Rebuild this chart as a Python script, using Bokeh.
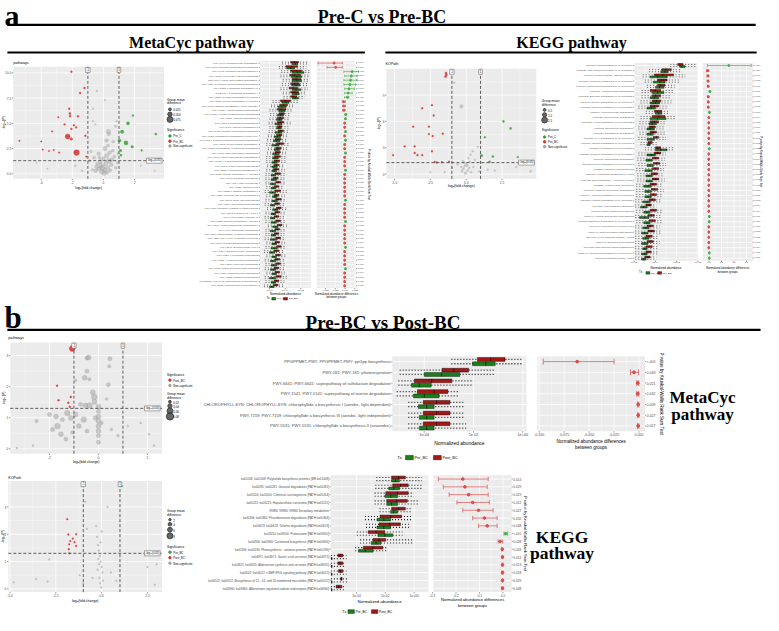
import math
from bokeh.plotting import figure
from bokeh.models import Range1d, Label, LabelSet, ColumnDataSource, BoxAnnotation
from bokeh.core.properties import value
from bokeh.embed import file_html
from bokeh.resources import INLINE

# ------------------------------------------------------------------ data
# Panel a, MetaCyc volcano (log2 FC, -log10 P, group mean difference)
vA1_red_x = [-2.06, -1.22, -1.50, -2.20, -2.16, -2.15, -1.64, -2.90, -2.50, -1.90, -1.75, -2.06, -3.30, -2.30, -2.06, -1.16, -4.00, -5.40, -3.90, -3.50, -3.20, -2.85, -1.73, -1.10]
vA1_red_y = [10.1, 8.5, 8.0, 6.45, 5.97, 5.7, 5.7, 5.6, 4.9, 4.8, 4.6, 4.45, 4.2, 3.7, 3.45, 3.77, 3.2, 3.26, 2.4, 2.26, 2.35, 2.1, 2.1, 1.7]
vA1_red_s = [0.01, 0.01, 0.01, 0.01, 0.015, 0.01, 0.01, 0.005, 0.01, 0.01, 0.01, 0.01, 0.005, 0.06, 0.02, 0.01, 0.005, 0.005, 0.005, 0.005, 0.005, 0.005, 0.07, 0.005]
vA1_green_x = [1.58, 1.20, 1.90, 3.37, 1.45, 1.85, 2.46, 1.03, 1.10, 1.12]
vA1_green_y = [5.0, 4.16, 5.77, 3.94, 3.06, 2.68, 2.32, 3.3, 2.3, 1.84]
vA1_green_s = [0.03, 0.035, 0.01, 0.015, 0.045, 0.02, 0.01, 0.03, 0.02, 0.015]
vA1_grey_x = [-0.42, 0.10, -0.67, 0.84, 0.78, 0.32, 0.35, 0.63, -0.67, -0.52, -1.80, -4.30, -3.60, 2.40, 3.30, -1.37, -0.50, -0.30, -0.10, 0.10, 0.30, 0.50, -0.40, -0.20, 0.00, 0.20, 0.40, 0.60, -0.60, -0.30, 0.10, 0.35, 0.70, -0.15, 0.05, -0.05, 0.25, 0.45, -0.45, 0.15, 0.55, -0.25, 0.80, -0.70, 0.90, 0.30, 0.20, -0.80, -0.90, 0.95]
vA1_grey_y = [8.2, 7.3, 6.45, 5.2, 4.7, 4.2, 3.95, 3.2, 5.2, 4.9, 0.8, 1.1, 0.5, 0.8, 0.3, 0.3, 0.3, 0.5, 0.2, 0.4, 0.6, 0.9, 1.0, 1.2, 1.5, 1.8, 2.1, 2.3, 1.6, 2.0, 2.5, 1.3, 1.7, 0.8, 0.05, 0.6, 0.15, 0.35, 0.7, 1.0, 1.4, 1.6, 0.6, 0.4, 1.1, 2.8, 3.3, 2.2, 1.3, 2.0]
vA1_grey_s = [0.01, 0.01, 0.01, 0.01, 0.02, 0.05, 0.04, 0.03, 0.01, 0.01, 0.01, 0.005, 0.005, 0.005, 0.005, 0.01, 0.04, 0.05, 0.06, 0.05, 0.04, 0.04, 0.03, 0.05, 0.04, 0.05, 0.04, 0.03, 0.03, 0.04, 0.05, 0.06, 0.03, 0.06, 0.05, 0.07, 0.04, 0.03, 0.04, 0.05, 0.04, 0.03, 0.03, 0.02, 0.02, 0.03, 0.04, 0.02, 0.02, 0.02]

# Panel a, KEGG volcano
vA2_red_x = [-1.41, -1.38, -1.45, -3.07, -2.39, -2.27, -3.70, -2.60, -2.60, -2.34, -1.64, -4.30, -3.60, -3.60, -3.40, -3.07, -2.39, -5.10, -2.20, -2.05, -1.70, -1.20]
vA2_red_y = [11.5, 11.3, 11.1, 7.5, 7.85, 6.67, 5.4, 5.4, 4.55, 4.33, 4.6, 3.15, 3.15, 2.4, 2.15, 2.15, 2.6, 2.15, 1.37, 1.32, 1.35, 1.40]
vA2_red_s = [0.3, 0.3, 0.3, 0.2, 0.2, 0.2, 0.2, 0.2, 0.2, 0.2, 0.2, 0.2, 0.2, 0.2, 0.2, 0.2, 0.2, 0.2, 0.2, 0.2, 0.2, 0.2]
vA2_green_x = [2.6, 3.1, 1.3, 1.07, 1.86, 1.63, 3.6]
vA2_green_y = [6.0, 5.2, 4.2, 2.1, 2.0, 1.4, 1.93]
vA2_green_s = [0.3, 0.3, 0.2, 0.4, 0.3, 0.3, 0.2]
vA2_grey_x = [-0.34, -0.84, 0.8, 4.5, -2.5, -1.5, 1.5, 0.5, -0.3, -0.2, -0.1, 0.0, 0.1, 0.2, -0.25, 0.15, 0.3, -0.05, 0.05, -0.15, 0.25, -0.35, 0.35, 0.6, -0.6, 0.9, 2.0, 3.5, -1.0, 0.45]
vA2_grey_y = [7.7, 10.4, 3.1, 0.3, 0.2, 0.2, 0.5, 0.8, 0.3, 0.6, 0.9, 1.2, 0.4, 0.7, 1.5, 1.8, 2.2, 0.1, 1.0, 1.3, 1.4, 0.8, 0.2, 1.6, 1.1, 0.3, 0.4, 0.8, 0.7, 2.6]
vA2_grey_s = [0.8, 0.2, 0.2, 0.3, 0.2, 0.2, 0.2, 0.2, 0.3, 0.4, 0.3, 0.3, 0.4, 0.3, 0.2, 0.2, 0.2, 0.5, 0.4, 0.3, 0.3, 0.2, 0.3, 0.2, 0.2, 0.2, 0.2, 0.2, 0.2, 0.2]

# Panel b, MetaCyc volcano
vB1_red_x = [-1.07, -1.69, -1.63, -1.13, -1.23, -1.17]
vB1_red_y = [3.23, 2.03, 1.56, 1.67, 1.48, 1.35]
vB1_red_s = [0.06, 0.01, 0.01, 0.01, 0.01, 0.01]
vB1_grey_x = [-0.40, -0.47, 0.47, 0.44, -0.47, -0.56, -0.37, -0.93, 0.40, -0.23, -0.17, -0.16, -0.36, -0.53, -0.73, 0.00, 0.33, 0.00, 0.00, 0.00, 0.00, 0.00, 0.00, 0.00, -0.13, 0.13, -2.00, -1.73, -1.47, -1.27, -1.13, -0.93, -0.60, -0.80, -1.67, -1.87, -1.53, -1.33, -1.07, -0.47, -2.53, 0.53, 0.80, 1.20, 1.73, 2.27, -2.67, -3.33, 2.07]
vB1_grey_y = [2.94, 2.92, 2.90, 2.66, 2.50, 2.29, 2.24, 2.20, 2.06, 1.82, 1.67, 1.51, 1.40, 1.40, 1.43, 1.35, 1.60, 1.20, 1.04, 0.89, 0.73, 0.57, 0.42, 0.21, 0.99, 0.83, 1.10, 1.04, 0.94, 1.15, 0.99, 1.10, 0.94, 0.73, 0.73, 0.62, 0.47, 0.31, 0.52, 0.57, 0.89, 0.62, 0.42, 0.73, 0.83, 0.10, 0.10, 0.02, 0.47]
vB1_grey_s = [0.05, 0.04, 0.04, 0.03, 0.04, 0.05, 0.03, 0.02, 0.04, 0.05, 0.06, 0.05, 0.06, 0.05, 0.04, 0.05, 0.02, 0.04, 0.05, 0.05, 0.05, 0.05, 0.04, 0.04, 0.04, 0.03, 0.04, 0.05, 0.04, 0.06, 0.05, 0.05, 0.06, 0.05, 0.06, 0.04, 0.05, 0.04, 0.03, 0.04, 0.03, 0.02, 0.02, 0.01, 0.01, 0.01, 0.01, 0.01, 0.01]

# Panel b, KEGG volcano
vB2_red_x = [-1.875, -1.82, -1.57, -1.39, -1.71, -1.48, -1.77, -1.39, -1.79, -1.75]
vB2_red_y = [2.55, 1.99, 1.84, 2.00, 1.75, 1.71, 1.63, 1.57, 1.45, 1.30]
vB2_red_s = [1, 1, 1, 1, 1, 1, 1, 1, 1, 1]
vB2_green_x = [1.10]
vB2_green_y = [3.76]
vB2_green_s = [1]
vB2_grey_x = [-0.89, 0.32, -2.86, -4.80, -2.95, -3.57, 2.50, 3.00, 2.90, -1.00, -1.20, 0.50, 0.80, -0.50, -0.80, -0.30, 0.00, -0.25, -0.20, -0.15, -0.10, -0.05, 0.00, 0.05, -0.12, -0.08, -0.02, -0.18, 0.08, -0.22, -0.06, -0.14]
vB2_grey_y = [3.19, 3.00, 1.08, 0.24, 0.27, 0.36, 0.80, 0.90, 0.15, 0.20, 0.50, 0.60, 0.30, 0.40, 2.20, 2.30, 2.10, 1.90, 1.60, 1.40, 1.20, 1.00, 0.80, 0.60, 0.40, 0.20, 0.05, 1.10, 0.30, 0.70, 1.70, 0.90]
vB2_grey_s = [1] * 32

# Panel a, MetaCyc abundance (log10 normalized abundance)
mA_names = ["PWY-7446: sulfoquinovose degradation I", "PWY-5677: succinate fermentation to butanoate", "PWY-6471: peptidoglycan biosynthesis IV", "PWY-7013: (S)-propane-1,2-diol degradation", "P164-PWY: purine nucleobases degradation I", "PWY-7209: pyrimidine ribonucleosides degradation", "PWY-5088: L-glutamate degradation VIII", "P162-PWY: L-glutamate degradation V", "PWY-6588: pyruvate fermentation to acetone", "PWY-5181: toluene degradation III (aerobic)", "PWY-5415: catechol degradation I (meta-cleavage)", "PWY-6185: 4-methylcatechol degradation", "PWY-7002: 4-hydroxyacetophenone degradation", "PWY-5420: catechol degradation II", "PWY-6210: 2-aminophenol degradation", "PWY-5417: catechol degradation III", "PWY-5431: aromatic compounds degradation", "PWY-6956: naphthalene degradation to acetyl-CoA", "PWY-5654: 2-amino-3-carboxymuconate degradation", "PWY-3661: glycine betaine degradation I", "PWY-6182: superpathway of salicylate degradation", "PWY-6071: phenylethylamine degradation", "PWY-7097: vanillin and vanillate degradation I", "PWY-6992: 1,5-anhydrofructose degradation", "PWY-7007: methyl ketone biosynthesis", "PWY-5655: L-tryptophan degradation IX", "PWY-5178: toluene degradation IV (aerobic)", "PWY-6690: cinnamate degradation", "PWY-7094: fatty acid salvage", "PWY-6531: mannitol cycle", "PWY-5028: L-histidine degradation II", "PWY-7159: chlorophyllide a biosynthesis III", "PWY-5198: factor 420 biosynthesis", "PWY-6876: isopropanol biosynthesis", "PWY-7616: methanol oxidation to carbon dioxide", "PWY-5392: reductive TCA cycle II", "PWY-6748: nitrate reduction VII", "PWY-5182: toluene degradation II (aerobic)", "PWY-7399: methylphosphonate degradation II", "PWY-6641: sulfolactate degradation", "PWY-1541: superpathway of taurine degradation", "PWY-7254: TCA cycle VII (acetate-producers)", "PWY-5109: 2-methylbutanoate biosynthesis", "PWY-5747: 2-methylcitrate cycle II", "PWY-7384: anaerobic energy metabolism", "PWY-6629: L-tryptophan biosynthesis", "PWY-6215: 4-chlorobenzoate degradation", "PWY-5534: propylene degradation", "PWY-7031: protein N-glycosylation (bacterial)", "PWY-6107: chlorosalicylate degradation", "PWY-7392: taxadiene biosynthesis", "CHLOROPHYLL-SYN: chlorophyllide a biosynthesis I", "PWY-5531: chlorophyllide a biosynthesis II"]
mA_r_q1 = [-3.3, -3.9, -3.3, -3.4, -3.1, -3.3, -3.5, -3.3, -3.3, -4.6, -4.7, -5.0, -4.8, -5.0, -5.0, -5.0, -4.9, -5.1, -5.3, -5.1, -5.2, -5.3, -5.4, -5.4, -5.4, -5.5, -5.3, -5.5, -5.2, -5.4, -5.3, -5.4, -5.2, -5.3, -5.1, -5.3, -5.4, -5.2, -5.0, -5.3, -5.4, -5.2, -5.3, -5.1, -5.4, -5.2, -5.3, -5.2, -5.4, -5.3, -5.2, -5.4, -5.5]
mA_r_med = [-2.8, -3.2, -2.6, -2.8, -2.6, -2.8, -3.0, -2.8, -2.9, -4.0, -4.2, -4.5, -4.4, -4.6, -4.6, -4.7, -4.6, -4.7, -4.9, -4.7, -4.9, -4.9, -5.0, -5.1, -5.1, -5.2, -5.0, -5.2, -4.9, -5.1, -5.0, -5.1, -4.9, -5.0, -4.8, -5.0, -5.1, -4.9, -4.7, -5.0, -5.1, -4.9, -5.0, -4.8, -5.1, -4.9, -5.0, -4.9, -5.1, -5.0, -4.9, -5.1, -5.2]
mA_r_q3 = [-2.3, -2.4, -1.9, -2.0, -2.0, -2.2, -2.4, -2.3, -2.5, -3.3, -3.7, -3.9, -4.1, -4.2, -4.2, -4.4, -4.2, -4.4, -4.5, -4.2, -4.5, -4.6, -4.6, -4.7, -4.8, -4.8, -4.6, -4.9, -4.6, -4.8, -4.6, -4.8, -4.5, -4.7, -4.5, -4.7, -4.8, -4.6, -4.4, -4.7, -4.8, -4.6, -4.7, -4.5, -4.8, -4.6, -4.7, -4.6, -4.8, -4.7, -4.5, -4.8, -4.9]
mA_g_q1 = [-3.1, -3.8, -3.1, -3.2, -3.1, -3.1, -3.1, -3.1, -3.1, -4.4, -4.9, -4.8, -5.0, -5.1, -5.3, -5.1, -5.3, -5.4, -5.5, -5.7, -5.4, -5.6, -5.6, -5.7, -5.7, -5.7, -5.8, -5.8, -5.9, -5.8, -6.0, -5.6, -5.7, -5.9, -5.6, -5.8, -5.9, -5.8, -5.6, -5.9, -5.8, -5.9, -5.7, -5.8, -6.0, -5.7, -5.9, -5.8, -5.9, -5.7, -6.0, -5.8, -6.0]
mA_g_med = [-2.7, -3.3, -2.4, -2.5, -2.5, -2.6, -2.6, -2.6, -2.7, -3.9, -4.4, -4.4, -4.6, -4.7, -4.8, -4.8, -4.8, -5.0, -5.1, -5.2, -5.0, -5.2, -5.3, -5.4, -5.4, -5.4, -5.5, -5.5, -5.6, -5.5, -5.6, -5.3, -5.4, -5.6, -5.2, -5.5, -5.6, -5.4, -5.2, -5.6, -5.5, -5.5, -5.4, -5.4, -5.7, -5.4, -5.6, -5.5, -5.5, -5.4, -5.6, -5.5, -5.7]
mA_g_q3 = [-2.4, -2.8, -1.6, -1.9, -1.9, -2.1, -2.0, -2.2, -2.3, -3.5, -3.9, -4.0, -4.2, -4.4, -4.4, -4.5, -4.4, -4.6, -4.7, -4.8, -4.7, -4.8, -4.9, -5.0, -5.0, -5.1, -5.2, -5.1, -5.2, -5.2, -5.2, -5.0, -5.0, -5.3, -4.9, -5.2, -5.3, -5.1, -4.9, -5.2, -5.2, -5.1, -5.1, -5.0, -5.3, -5.1, -5.2, -5.1, -5.2, -5.1, -5.2, -5.2, -5.4]
mA_w_lo = [-4.4, -4.8, -4.5, -4.6, -4.3, -4.4, -4.6, -4.3, -4.2, -5.6, -5.8, -6.0, -5.9, -6.0, -6.1, -6.0, -6.1, -6.2, -6.3, -6.4, -6.2, -6.3, -6.4, -6.4, -6.3, -6.4, -6.5, -6.5, -6.5, -6.4, -6.6, -6.4, -6.5, -6.6, -6.3, -6.5, -6.6, -6.5, -6.2, -6.5, -6.5, -6.6, -6.4, -6.5, -6.7, -6.4, -6.6, -6.5, -6.6, -6.4, -6.6, -6.5, -6.7]
mA_w_hi = [-1.0, -1.3, -0.9, -1.0, -1.0, -1.2, -1.1, -1.3, -1.5, -2.3, -2.9, -3.0, -3.3, -3.4, -3.3, -3.6, -3.5, -3.6, -3.7, -3.4, -3.7, -3.8, -3.9, -3.9, -4.0, -4.0, -3.8, -4.1, -3.9, -4.1, -3.8, -4.0, -3.8, -4.0, -3.7, -4.0, -4.1, -3.9, -3.6, -4.0, -4.1, -3.9, -4.0, -3.8, -4.1, -3.9, -4.0, -3.9, -4.1, -4.0, -3.8, -4.1, -4.2]
mA_d_mean = [-0.028, -0.024, 0.018, 0.016, 0.014, 0.012, 0.010, 0.008, 0.006, -0.0035, -0.003, -0.003, 0.0015, 0.001, -0.001, -0.001, 0.001, -0.001, 0.001, -0.001, -0.001, 0.001, -0.001, -0.001, -0.001, 0.001, -0.001, -0.001, -0.001, -0.001, -0.001, -0.001, 0.001, -0.001, -0.001, -0.001, -0.001, 0.001, -0.001, -0.001, -0.001, -0.001, -0.001, 0.001, -0.001, -0.001, -0.001, -0.001, 0.001, -0.001, -0.001, -0.001, -0.001]
mA_d_lo = [-0.069, -0.046, -0.003, -0.001, -0.003, -0.003, -0.001, -0.001, -0.001, -0.007, -0.006, -0.006, 0.000, 0.000, -0.002, -0.002, 0.000, -0.002, 0.000, -0.002, -0.002, 0.000, -0.002, -0.002, -0.002, 0.000, -0.002, -0.002, -0.002, -0.002, -0.002, -0.002, 0.000, -0.002, -0.002, -0.002, -0.002, 0.000, -0.002, -0.002, -0.002, -0.002, -0.002, 0.000, -0.002, -0.002, -0.002, -0.002, 0.000, -0.002, -0.002, -0.002, -0.002]
mA_d_hi = [-0.007, -0.007, 0.034, 0.031, 0.031, 0.027, 0.024, 0.018, 0.010, 0.001, 0.001, 0.000, 0.004, 0.002, 0.000, 0.000, 0.002, 0.000, 0.002, 0.000, 0.000, 0.002, 0.000, 0.000, 0.000, 0.002, 0.000, 0.000, 0.000, 0.000, 0.000, 0.000, 0.002, 0.000, 0.000, 0.000, 0.000, 0.002, 0.000, 0.000, 0.000, 0.000, 0.000, 0.002, 0.000, 0.000, 0.000, 0.000, 0.002, 0.000, 0.000, 0.000, 0.000]
mA_d_grp = ["Pre_BC", "Pre_BC", "Pre_C", "Pre_C", "Pre_C", "Pre_C", "Pre_C", "Pre_C", "Pre_C", "Pre_BC", "Pre_BC", "Pre_BC", "Pre_C", "Pre_C", "Pre_BC", "Pre_BC", "Pre_C", "Pre_BC", "Pre_C", "Pre_BC", "Pre_BC", "Pre_C", "Pre_BC", "Pre_BC", "Pre_BC", "Pre_C", "Pre_BC", "Pre_BC", "Pre_BC", "Pre_BC", "Pre_BC", "Pre_BC", "Pre_C", "Pre_BC", "Pre_BC", "Pre_BC", "Pre_BC", "Pre_C", "Pre_BC", "Pre_BC", "Pre_BC", "Pre_BC", "Pre_BC", "Pre_C", "Pre_BC", "Pre_BC", "Pre_BC", "Pre_BC", "Pre_C", "Pre_BC", "Pre_BC", "Pre_BC", "Pre_BC"]
mA_p = ["0.004", "0.006", "0.002", "0.003", "0.001", "0.004", "0.005", "0.002", "0.008", "0.001", "0.003", "0.002", "0.006", "0.004", "0.001", "0.002", "0.009", "0.003", "0.005", "0.001", "0.002", "0.007", "0.004", "0.003", "0.002", "0.006", "0.001", "0.004", "0.002", "0.003", "0.005", "0.001", "0.008", "0.002", "0.004", "0.003", "0.006", "0.009", "0.002", "0.001", "0.003", "0.005", "0.004", "0.007", "0.002", "0.003", "0.006", "0.001", "0.008", "0.004", "0.002", "0.005", "0.003"]

# Panel a, KEGG abundance
kA_names = ["ko00195: Photosynthesis [PATH:ko00195]", "ko02020: Two-component system [PATH:ko02020]", "ko00196: Photosynthesis - antenna proteins", "ko00860: Porphyrin metabolism [PATH:ko00860]", "ko00906: Carotenoid biosynthesis [PATH:ko00906]", "ko00627: Aminobenzoate degradation", "ko00362: Benzoate degradation [PATH:ko00362]", "ko00643: Styrene degradation [PATH:ko00643]", "ko00623: Toluene degradation [PATH:ko00623]", "ko00364: Fluorobenzoate degradation", "ko00625: Chloroalkane degradation", "ko00622: Xylene degradation [PATH:ko00622]", "ko00633: Nitrotoluene degradation", "ko00626: Naphthalene degradation", "ko00624: PAH degradation [PATH:ko00624]", "ko00984: Steroid degradation [PATH:ko00984]", "ko03050: Proteasome [PATH:ko03050]", "ko00281: Geraniol degradation [PATH:ko00281]", "ko00930: Caprolactam degradation", "ko00621: Dioxin degradation [PATH:ko00621]", "ko05204: Chemical carcinogenesis", "ko00980: Xenobiotics metabolism by P450", "ko00982: Drug metabolism - cytochrome P450", "ko05225: Hepatocellular carcinoma", "ko00903: Limonene and pinene degradation", "ko00791: Atrazine degradation [PATH:ko00791]", "ko00365: Furfural degradation [PATH:ko00365]", "ko04626: Plant-pathogen interaction", "ko00901: Indole alkaloid biosynthesis", "ko00944: Flavone and flavonol biosynthesis", "ko00363: Bisphenol degradation [PATH:ko00363]", "ko04146: Peroxisome [PATH:ko04146]", "ko00940: Phenylpropanoid biosynthesis", "ko04016: MAPK signaling pathway - plant", "ko00945: Stilbenoid biosynthesis", "ko04075: Plant hormone signal transduction", "ko00941: Flavonoid biosynthesis [PATH:ko00941]", "ko04712: Circadian rhythm - plant"]
kA_r_q1 = [-1.9, -3.4, -4.1, -3.8, -3.8, -4.5, -4.3, -4.3, -4.5, -4.1, -4.3, -4.5, -4.6, -4.5, -4.2, -4.7, -4.0, -4.1, -4.3, -4.2, -4.3, -4.4, -4.3, -4.5, -4.4, -4.5, -4.6, -4.9, -4.5, -4.7, -4.6, -4.8, -4.7, -4.9, -4.8, -4.9, -4.9, -5.0]
kA_r_med = [-1.7, -3.0, -3.3, -3.4, -3.5, -4.0, -4.0, -3.9, -4.1, -3.8, -3.7, -4.1, -4.3, -4.2, -3.9, -4.5, -3.8, -3.8, -4.0, -3.9, -4.0, -4.1, -4.0, -4.2, -4.1, -4.2, -4.3, -4.6, -4.2, -4.4, -4.3, -4.5, -4.4, -4.6, -4.5, -4.6, -4.7, -4.7]
kA_r_q3 = [-1.4, -2.5, -2.3, -2.9, -3.1, -3.5, -3.5, -3.5, -3.7, -3.4, -3.1, -3.7, -4.0, -3.9, -3.7, -4.3, -3.5, -3.5, -3.7, -3.6, -3.7, -3.8, -3.7, -3.9, -3.8, -3.9, -4.0, -4.4, -3.9, -4.1, -4.0, -4.2, -4.1, -4.3, -4.2, -4.3, -4.4, -4.5]
kA_g_q1 = [-1.7, -3.5, -4.5, -4.2, -4.0, -4.3, -4.5, -4.5, -4.8, -4.0, -4.5, -4.6, -4.8, -4.8, -4.8, -4.8, -4.0, -4.8, -4.9, -4.8, -5.0, -4.9, -4.9, -5.1, -5.0, -5.0, -5.2, -5.4, -5.1, -5.5, -5.1, -5.2, -5.3, -5.2, -5.3, -5.2, -5.3, -5.3]
kA_g_med = [-1.5, -3.1, -3.8, -3.6, -3.6, -3.8, -4.1, -4.0, -4.4, -3.7, -3.8, -4.3, -4.5, -4.5, -4.4, -4.6, -3.5, -4.4, -4.6, -4.5, -4.6, -4.6, -4.6, -4.7, -4.7, -4.7, -4.8, -5.1, -4.8, -5.0, -4.8, -4.9, -5.0, -4.9, -5.0, -5.0, -5.0, -5.1]
kA_g_q3 = [-1.2, -2.8, -2.9, -3.1, -3.2, -3.2, -3.7, -3.6, -4.0, -3.4, -3.0, -3.9, -4.1, -4.2, -4.1, -4.5, -2.9, -4.0, -4.3, -4.2, -4.3, -4.3, -4.3, -4.4, -4.4, -4.4, -4.5, -4.8, -4.5, -4.6, -4.5, -4.6, -4.7, -4.6, -4.7, -4.8, -4.8, -4.9]
kA_w_lo = [-2.6, -4.6, -5.2, -5.0, -4.8, -5.3, -5.3, -5.4, -5.6, -4.9, -5.4, -5.5, -5.6, -5.5, -5.6, -5.4, -5.0, -5.6, -5.7, -5.6, -5.8, -5.7, -5.7, -5.8, -5.8, -5.8, -5.9, -5.9, -5.8, -5.9, -5.8, -5.9, -5.9, -5.9, -5.9, -5.9, -5.9, -5.9]
kA_w_hi = [-0.2, -1.6, -1.2, -1.8, -2.2, -2.3, -2.6, -2.5, -2.8, -2.7, -2.0, -3.0, -3.2, -3.1, -3.0, -3.8, -2.2, -3.0, -3.1, -3.0, -3.2, -3.2, -3.1, -3.3, -3.2, -3.3, -3.4, -3.9, -3.3, -3.5, -3.4, -3.6, -3.5, -3.7, -3.6, -3.7, -3.8, -3.9]
kA_d_mean = [0.79, -0.05, -0.04, -0.04, -0.03, 0.03, -0.03, -0.03, -0.03, 0.015, -0.01, -0.01, -0.01, -0.01, -0.01, -0.01, 0.01, -0.01, -0.01, -0.01, -0.01, -0.01, -0.01, -0.01, -0.01, -0.01, -0.01, -0.01, -0.01, 0.01, 0.01, -0.01, -0.01, -0.01, -0.01, -0.01, 0.01, 0.01]
kA_d_lo = [-0.06, -0.10, -0.08, -0.07, -0.06, 0.01, -0.06, -0.05, -0.05, 0.00, -0.02, -0.02, -0.02, -0.02, -0.02, -0.02, 0.00, -0.02, -0.02, -0.02, -0.02, -0.02, -0.02, -0.02, -0.02, -0.02, -0.02, -0.02, -0.02, 0.00, 0.00, -0.02, -0.02, -0.02, -0.02, -0.02, 0.00, 0.00]
kA_d_hi = [1.69, -0.01, -0.01, -0.01, -0.01, 0.06, -0.01, -0.01, -0.01, 0.03, 0.00, 0.00, 0.00, 0.00, 0.00, 0.00, 0.02, 0.00, 0.00, 0.00, 0.00, 0.00, 0.00, 0.00, 0.00, 0.00, 0.00, 0.00, 0.00, 0.02, 0.02, 0.00, 0.00, 0.00, 0.00, 0.00, 0.02, 0.02]
kA_d_grp = ["Pre_C", "Pre_BC", "Pre_BC", "Pre_BC", "Pre_BC", "Pre_C", "Pre_BC", "Pre_BC", "Pre_BC", "Pre_C", "Pre_BC", "Pre_BC", "Pre_BC", "Pre_BC", "Pre_BC", "Pre_BC", "Pre_C", "Pre_BC", "Pre_BC", "Pre_BC", "Pre_BC", "Pre_BC", "Pre_BC", "Pre_BC", "Pre_BC", "Pre_BC", "Pre_BC", "Pre_BC", "Pre_BC", "Pre_C", "Pre_C", "Pre_BC", "Pre_BC", "Pre_BC", "Pre_BC", "Pre_BC", "Pre_C", "Pre_C"]
kA_p = ["0.008", "0.001", "0.004", "0.002", "0.006", "0.001", "0.003", "0.005", "0.002", "0.010", "0.004", "0.002", "0.001", "0.007", "0.003", "0.005", "0.012", "0.002", "0.004", "0.001", "0.003", "0.006", "0.002", "0.001", "0.005", "0.003", "0.002", "0.009", "0.004", "0.011", "0.006", "0.001", "0.003", "0.002", "0.005", "0.004", "0.008", "0.007"]

# Panel b, MetaCyc abundance
mB_names = ["PPGPPMET-PWY; PPGPPMET-PWY: ppGpp biosynthesis", "PWY-181; PWY-181: photorespiration", "PWY-6641; PWY-6641: superpathway of sulfolactate degradation", "PWY-1541; PWY-1541: superpathway of taurine degradation", "CHLOROPHYLL-SYN; CHLOROPHYLL-SYN: chlorophyllide a biosynthesis I (aerobic, light-dependent)", "PWY-7159; PWY-7159: chlorophyllide a biosynthesis III (aerobic, light independent)", "PWY-5531; PWY-5531: chlorophyllide a biosynthesis II (anaerobic)"]
mB_post_q1 = [-1.84, -3.28, -4.40, -4.28, -4.04, -4.04, -4.04]
mB_post_med = [-1.30, -2.80, -3.70, -3.60, -3.50, -3.50, -3.50]
mB_post_q3 = [-0.72, -2.20, -2.88, -3.04, -2.96, -2.96, -2.96]
mB_pre_q1 = [-2.04, -4.00, -4.52, -4.44, -4.24, -4.20, -4.20]
mB_pre_med = [-1.50, -3.30, -4.20, -4.00, -3.90, -3.90, -3.90]
mB_pre_q3 = [-1.12, -2.56, -3.72, -3.40, -3.60, -3.60, -3.60]
mB_w_lo = [-2.90, -5.00, -5.05, -5.12, -4.65, -4.65, -4.65]
mB_w_hi = [-0.04, -1.10, -2.00, -2.60, -2.40, -2.40, -2.30]
mB_d_mean = [-0.062, -0.005, -0.0012, -0.0012, -0.0008, -0.0008, -0.0008]
mB_d_lo = [-0.096, -0.0085, -0.0022, -0.0022, -0.0014, -0.0014, -0.0014]
mB_d_hi = [-0.025, -0.0005, -0.0003, -0.0003, -0.0002, -0.0002, -0.0002]
mB_d_grp = ["Post_BC"] * 7
mB_p = ["<.001", "0.043", "0.021", "0.032", "0.009", "0.027", "0.027"]

# Panel b, KEGG abundance
kB_names = ["ko01008; ko01008: Polyketide biosynthesis proteins [BR:ko01008]", "ko00281; ko00281: Geraniol degradation [PATH:ko00281]", "ko05204; ko05204: Chemical carcinogenesis [PATH:ko05204]", "ko05225; ko05225: Hepatocellular carcinoma [PATH:ko05225]", "99986; 99986: 99986 Secondary metabolism", "ko00364; ko00364: Fluorobenzoate degradation [PATH:ko00364]", "ko00623; ko00623: Toluene degradation [PATH:ko00623]", "ko03050; ko03050: Proteasome [PATH:ko03050]", "ko00906; ko00906: Carotenoid biosynthesis [PATH:ko00906]", "ko00196; ko00196: Photosynthesis - antenna proteins [PATH:ko00196]", "ko04971; ko04971: Gastric acid secretion [PATH:ko04971]", "ko04925; ko04925: Aldosterone synthesis and secretion [PATH:ko04925]", "ko04022; ko04022: cGMP-PKG signaling pathway [PATH:ko04022]", "ko00522; ko00522: Biosynthesis of 12-, 14- and 16-membered macrolides [PATH:ko00522]", "ko04960; ko04960: Aldosterone-regulated sodium reabsorption [PATH:ko04960]"]
kB_post_q1 = [-1.56, -1.49, -1.97, -1.90, -1.56, -2.37, -2.44, -3.19, -2.85, -3.53, -5.29, -5.29, -5.25, -5.10, -5.42]
kB_post_med = [-1.08, -0.95, -1.15, -1.22, -1.08, -1.63, -1.70, -2.64, -2.44, -2.85, -5.15, -5.15, -5.12, -5.05, -5.25]
kB_post_q3 = [-0.61, -0.41, -0.41, -0.47, -0.61, -0.88, -0.95, -2.03, -1.97, -2.17, -4.95, -4.95, -4.95, -5.00, -5.02]
kB_pre_q1 = [-1.56, -1.76, -2.03, -1.90, -1.63, -2.58, -2.58, -2.51, -2.98, -3.86, -5.72, -5.72, -5.72, -5.72, -5.72]
kB_pre_med = [-1.29, -1.42, -1.63, -1.56, -1.42, -2.10, -2.10, -2.03, -2.64, -3.39, -5.72, -5.72, -5.72, -5.72, -5.72]
kB_pre_q3 = [-1.02, -1.02, -1.15, -1.15, -1.15, -1.63, -1.63, -1.49, -2.31, -2.85, -5.72, -5.72, -5.72, -5.72, -5.72]
kB_w_lo = [-2.62, -2.69, -2.74, -2.74, -2.40, -3.41, -3.34, -3.98, -3.75, -4.09, -5.78, -5.78, -5.78, -5.78, -5.78]
kB_w_hi = [0.54, 0.54, -0.02, 0.32, -0.14, -0.14, -0.36, -0.81, -0.14, -1.83, -4.70, -4.80, -4.70, -4.54, -4.88]
kB_d_mean = [-0.171, -0.162, -0.146, -0.129, -0.104, -0.079, -0.067, 0.012, -0.012, -0.003, -0.002, -0.002, -0.002, -0.002, -0.002]
kB_d_lo = [-0.275, -0.254, -0.229, -0.196, -0.171, -0.129, -0.104, 0.004, -0.021, -0.006, -0.004, -0.004, -0.004, -0.003, -0.004]
kB_d_hi = [-0.063, -0.067, -0.063, -0.058, -0.042, -0.025, -0.025, 0.020, -0.001, -0.001, 0.000, 0.000, 0.000, 0.000, 0.000]
kB_d_grp = ["Post_BC"] * 7 + ["Pre_BC"] + ["Post_BC"] * 7
kB_p = ["0.014", "0.029", "0.019", "0.012", "0.027", "0.032", "0.048", "<.001", "0.008", "0.003", "0.013", "0.013", "0.018", "0.029", "0.048"]

# ------------------------------------------------------------------ canvas
RW, RH = 779, 631          # reference layout units
SANS = "Liberation Sans"
SERIF = "Liberation Serif"
PANEL = "#EBEBEB"
PT_RED = "#D7302F"
PT_GREEN = "#33A333"
PT_GREY = "#A0A0A0"
BOX_RED = "#A01818"
BOX_GREEN = "#1C7F1C"
DIFF_RED = "#D94A4A"
DIFF_GREEN = "#45B045"
TICK_C = "#4D4D4D"

FIG = figure(width=763, height=615, x_range=Range1d(0, RW), y_range=Range1d(RH, 0),
             x_axis_type=None, y_axis_type=None, output_backend="svg", toolbar_location=None,
             min_border_left=0, min_border_right=0, min_border_top=0, min_border_bottom=0)
FIG.outline_line_color = None
FIG.background_fill_color = "white"
FIG.border_fill_color = "white"

XR, YR = {}, {}


def prng(name, xr, yr, box):
    px0, px1, py0, py1 = box
    a, b = xr
    c, d = yr
    kx = (b - a) / (px1 - px0)
    XR[name] = Range1d(a - px0 * kx, b + (RW - px1) * kx)
    ky = (d - c) / (py1 - py0)
    YR[name] = Range1d(c - (RH - py1) * ky, d + py0 * ky)


def txt(x, y, text, fs, color="black", align="left", baseline="middle", font=SANS,
        style="normal", angle=0.0, xr="default", yr="default", **kw):
    FIG.add_layout(Label(x=x, y=y, text=text, x_range_name=xr, y_range_name=yr,
                         text_font_size=f"{fs}px", text_color=color, text_align=align,
                         text_baseline=baseline, text_font=font, text_font_style=style,
                         angle=angle, **kw))


def rule(left, right, yc, thick=2.2):
    FIG.add_layout(BoxAnnotation(left=left, right=right, top=yc - thick / 2, bottom=yc + thick / 2,
                                 fill_color="black", fill_alpha=1.0, line_color=None))


def panel_bg(box):
    px0, px1, py0, py1 = box
    FIG.add_layout(BoxAnnotation(left=px0, right=px1, top=py0, bottom=py1, fill_color=PANEL,
                                 fill_alpha=1.0, line_color=None, level="underlay"))


def grid(name, xr, yr, xt, xm, yt, ym, w=0.75):
    for ticks, lw in ((xm, w * 0.45), (xt, w)):
        if ticks:
            src = ColumnDataSource(dict(x=ticks, y0=[yr[0]] * len(ticks), y1=[yr[1]] * len(ticks)))
            FIG.segment(x0="x", x1="x", y0="y0", y1="y1", source=src, line_color="white",
                        line_width=lw, x_range_name=name, y_range_name=name)
    for ticks, lw in ((ym, w * 0.45), (yt, w)):
        if ticks:
            src = ColumnDataSource(dict(y=ticks, x0=[xr[0]] * len(ticks), x1=[xr[1]] * len(ticks)))
            FIG.segment(x0="x0", x1="x1", y0="y", y1="y", source=src, line_color="white",
                        line_width=lw, x_range_name=name, y_range_name=name)


def xaxis(name, ticks, labels, ybot, fs):
    n = len(ticks)
    src = ColumnDataSource(dict(x=ticks, y0=[ybot] * n, y1=[ybot + 1.4] * n, t=labels))
    FIG.segment(x0="x", x1="x", y0="y0", y1="y1", source=src, line_color="#333333",
                line_width=0.5, x_range_name=name)
    FIG.add_layout(LabelSet(x="x", y=ybot + 1.8, text="t", source=src, x_range_name=name,
                            text_align="center", text_baseline="top", text_font=value(SANS),
                            text_font_size=f"{fs}px", text_color=TICK_C))


def yaxis(name, ticks, labels, xleft, fs, ticklen=1.4, align="right", side=-1):
    n = len(ticks)
    src = ColumnDataSource(dict(y=ticks, x0=[xleft] * n, x1=[xleft + side * ticklen] * n, t=labels))
    FIG.segment(x0="x0", x1="x1", y0="y", y1="y", source=src, line_color="#333333",
                line_width=0.5, y_range_name=name)
    FIG.add_layout(LabelSet(x=xleft + side * (ticklen + 0.6), y="y", text="t", source=src,
                            y_range_name=name, text_align=align, text_baseline="middle",
                            text_font=value(SANS), text_font_size=f"{fs}px", text_color=TICK_C))


def volcano(name, box, xr, yr, xt, xm, xl, yt, ym, yl, title, layers, smap, legend, lx, fs,
            title_xy, ylab_x, xlab_y):
    px0, px1, py0, py1 = box
    prng(name, xr, yr, box)
    panel_bg(box)
    grid(name, xr, yr, xt, xm, yt, ym)
    xaxis(name, xt, xl, py1, fs)
    yaxis(name, yt, yl, px0, fs)
    txt((px0 + px1) / 2, xlab_y, "log\u2082(fold change)", fs * 1.1, align="center")
    txt(ylab_x, (py0 + py1) / 2, "-log\u2081\u2080(P)", fs * 1.1, align="center", angle=math.pi / 2)
    txt(title_xy[0], title_xy[1], title, fs * 1.15, baseline="bottom")
    for xs, ys, ss, col, fa in layers:
        src = ColumnDataSource(dict(x=xs, y=ys, sz=[smap(s) for s in ss]))
        FIG.scatter("x", "y", size="sz", source=src, fill_color=col, fill_alpha=fa,
                    line_color=col, line_alpha=min(1.0, fa + 0.2), line_width=0.3,
                    x_range_name=name, y_range_name=name)
    thr = -math.log10(0.05)
    fc = [-1, 1]
    vs = ColumnDataSource(dict(x=fc, y0=[yr[0]] * 2, y1=[yr[1]] * 2))
    FIG.segment(x0="x", x1="x", y0="y0", y1="y1", source=vs, line_color="#4D4D4D",
                line_dash="3 2", line_width=0.9, x_range_name=name, y_range_name=name)
    hs = ColumnDataSource(dict(y=[thr], x0=[xr[0]], x1=[xr[1]]))
    FIG.segment(x0="x0", x1="x1", y0="y", y1="y", source=hs, line_color="#4D4D4D",
                line_dash="3 2", line_width=0.9, x_range_name=name, y_range_name=name)
    for v in fc:
        txt(v, py0 + 3.2, str(v), fs * 0.85, align="center", xr=name,
            background_fill_color="white", border_line_color="#555555",
            border_line_width=0.5, padding=1)
    txt(px1 - 2, thr, "-log\u2081\u2080(0.05)", fs * 0.85, align="right", yr=name,
        background_fill_color="white", border_line_color="#555555",
        border_line_width=0.5, padding=1)
    tx, kx, lx2 = lx
    for kind, text, ry, extra in legend:
        if kind == "title":
            txt(tx, ry, text, fs)
        elif kind == "size":
            FIG.scatter([kx], [ry], size=smap(extra), fill_color="#333333", fill_alpha=0.75,
                        line_color="#333333", line_alpha=0.8)
            txt(lx2, ry, text, fs * 0.9)
        else:
            FIG.scatter([kx], [ry], size=2.4, fill_color=extra, line_color=extra)
            txt(lx2, ry, text, fs * 0.9)


def boxplot(name, box, xr, xt, xm, xl, names, top, bot, wlo, whi, fs_names, fs, tfs,
            xtitle_y, legend, dash_w, dash):
    px0, px1, py0, py1 = box
    n = len(names)
    yr = (-0.5, n - 0.5)
    prng(name, xr, yr, box)
    panel_bg(box)
    ys = [n - 1 - i for i in range(n)]
    grid(name, xr, yr, xt, xm, ys, [])
    xaxis(name, xt, xl, py1, fs)
    yaxis(name, ys, names, px0, fs_names, ticklen=1.0)
    txt((px0 + px1) / 2, xtitle_y, "Normalized abundance", tfs, align="center")
    off, h = 0.2, 0.36
    for (q1, med, q3), sign, col in ((top, 1, BOX_RED), (bot, -1, BOX_GREEN)):
        yy = [v + sign * off for v in ys]
        src = ColumnDataSource(dict(y=yy, q1=q1, med=med, q3=q3, wlo=wlo, whi=whi,
                                    y0=[v - h / 2 for v in yy], y1=[v + h / 2 for v in yy]))
        FIG.segment(x0="wlo", x1="whi", y0="y", y1="y", source=src, line_color="black",
                    line_alpha=0.85, line_width=dash_w, line_dash=dash,
                    x_range_name=name, y_range_name=name)
        FIG.hbar(y="y", left="q1", right="q3", height=h, source=src, fill_color=col,
                 line_color="black", line_width=0.4, x_range_name=name, y_range_name=name)
        FIG.segment(x0="med", x1="med", y0="y0", y1="y1", source=src, line_color="black",
                    line_width=0.6, x_range_name=name, y_range_name=name)
    ly, lxs, kw, kh = legend
    txt(lxs[0], ly, "Tx", fs * 1.1)
    for (kx, lab, col) in ((lxs[1], lxs[2], BOX_GREEN), (lxs[3], lxs[4], BOX_RED)):
        FIG.rect([kx], [ly], width=kw, height=kh, fill_color=col, line_color="black", line_width=0.4)
        txt(kx + kw / 2 + 1.2, ly, lab, fs)


def diffplot(name, box, xr, xt, xm, xl, mean, lo, hi, grp, cmap, pvals, fs, tfs, ttl_x,
             xtitle_y, dot):
    px0, px1, py0, py1 = box
    n = len(mean)
    yr = (-0.5, n - 0.5)
    prng(name, xr, yr, box)
    panel_bg(box)
    ys = [n - 1 - i for i in range(n)]
    grid(name, xr, yr, xt, xm, ys, [])
    xaxis(name, xt, xl, py1, fs)
    yaxis(name, ys, pvals, px1, fs, ticklen=1.0, align="left", side=1)
    txt((px0 + px1) / 2, xtitle_y, "Normalized abundance differences\nbetween groups", tfs,
        align="center", baseline="top")
    txt(ttl_x, (py0 + py1) / 2, "P value by Kruskal-Wallis Rank Sum Test", tfs,
        align="center", angle=-math.pi / 2)
    cols = [cmap[g] for g in grp]
    src = ColumnDataSource(dict(y=ys, m=mean, lo=lo, hi=hi, c=cols,
                                c0=[v - 0.28 for v in ys], c1=[v + 0.28 for v in ys]))
    kw = dict(source=src, line_color="c", line_width=0.7, x_range_name=name, y_range_name=name)
    FIG.segment(x0="lo", x1="hi", y0="y", y1="y", **kw)
    FIG.segment(x0="lo", x1="lo", y0="c0", y1="c1", **kw)
    FIG.segment(x0="hi", x1="hi", y0="c0", y1="c1", **kw)
    FIG.scatter("m", "y", source=src, size=dot, fill_color="c", line_color="c",
                x_range_name=name, y_range_name=name)


def serif(x, y, text, fs, align="center"):
    txt(x, y, text, fs, align=align, baseline="alphabetic", font=SERIF, style="bold")


# ------------------------------------------------------------------ headers
serif(4, 15.5, "a", 30, align="left")
serif(389.5, 17, "Pre-C vs Pre-BC", 18)
rule(7, 771, 25)
serif(195, 43.5, "MetaCyc pathway", 16)
serif(583, 43.5, "KEGG pathway", 16)
rule(7, 372, 53.3)
rule(393, 772, 53.3)

serif(4, 325, "b", 31, align="left")
serif(390.5, 330, "Pre-BC vs Post-BC", 19)
rule(7, 776, 338)

serif(716.7, 407.5, "MetaCyc", 17)
serif(716.7, 425, "pathway", 17)
serif(573.3, 550, "KEGG", 17.5)
serif(573.3, 566.7, "pathway", 17.5)

# ------------------------------------------------------------------ panel a
s1 = lambda s: 1.3 + 62 * s
volcano("vA1", (13, 167, 68, 183), (-5.8, 3.9), (-0.5, 10.6), [-4, -2, 0, 2], [-5, -3, -1, 1, 3],
        ["-4", "-2", "0", "2"], [0, 2.5, 5, 7.5, 10], [1.25, 3.75, 6.25, 8.75],
        ["0.0", "2.5", "5.0", "7.5", "10.0"], "pathways",
        [(vA1_grey_x, vA1_grey_y, vA1_grey_s, PT_GREY, 0.45),
         (vA1_red_x, vA1_red_y, vA1_red_s, PT_RED, 0.85),
         (vA1_green_x, vA1_green_y, vA1_green_s, PT_GREEN, 0.85)], s1,
        [("title", "Group mean", 101.5, None), ("title", "difference", 105, None),
         ("size", "0.025", 111.7, 0.025), ("size", "0.050", 116.7, 0.05), ("size", "0.075", 122, 0.075),
         ("title", "Significance", 132.7, None), ("sig", "Pre_C", 139, PT_GREEN),
         ("sig", "Pre_BC", 144.3, PT_RED), ("sig", "Non-significant", 149.3, PT_GREY)],
        (170, 173, 176.5), 3.2, (13, 66.5), 4, 192)

boxplot("bA1", (265, 317, 62, 295), (-7.2, -0.7), [-6, -4, -2], [-7, -5, -3, -1],
        ["1e-06", "1e-04", "1e-02"], mA_names,
        (mA_r_q1, mA_r_med, mA_r_q3), (mA_g_q1, mA_g_med, mA_g_q3), mA_w_lo, mA_w_hi,
        2.5, 2.5, 3.0, 300.7, (306, (271.5, 279, "Pre_C", 291, "Pre_BC"), 4, 2.6), 0.7, "1 2")
diffplot("dA1", (323, 363, 62, 295), (-0.072, 0.028), [-0.05, -0.025, 0, 0.025],
         [-0.0625, -0.0375, -0.0125, 0.0125], ["-0.050", "-0.025", "0.000", "0.025"],
         mA_d_mean, mA_d_lo, mA_d_hi, mA_d_grp,
         {"Pre_BC": DIFF_RED, "Pre_C": DIFF_GREEN}, mA_p, 2.4, 2.8, 376.5, 298.8, 2.0)

s2 = lambda s: 1.3 + 3.0 * s
volcano("vA2", (394, 547, 70, 183), (-5.57, 4.89), (-0.55, 12.0), [-5, -2.5, 0, 2.5],
        [-3.75, -1.25, 1.25, 3.75], ["-5.0", "-2.5", "0.0", "2.5"], [0, 3, 6, 9],
        [1.5, 4.5, 7.5, 10.5], ["0", "3", "6", "9"], "KOPath",
        [(vA2_grey_x, vA2_grey_y, vA2_grey_s, PT_GREY, 0.45),
         (vA2_red_x, vA2_red_y, vA2_red_s, PT_RED, 0.85),
         (vA2_green_x, vA2_green_y, vA2_green_s, PT_GREEN, 0.85)], s2,
        [("title", "Group mean", 102.7, None), ("title", "difference", 106.5, None),
         ("size", "0.5", 112.3, 0.5), ("size", "1.0", 117.3, 1.0), ("size", "1.5", 122.7, 1.5),
         ("title", "Significance", 132.7, None), ("sig", "Pre_C", 140, PT_GREEN),
         ("sig", "Pre_BC", 145, PT_RED), ("sig", "Non-significant", 150, PT_GREY)],
        (552.7, 555.5, 559), 3.2, (393, 67), 386.5, 190.5)

boxplot("bA2", (647, 712, 64, 267), (-6, 0), [-6, -4, -2, 0], [-5, -3, -1],
        ["1e-06", "1e-04", "1e-02", "1e+00"], kA_names,
        (kA_r_q1, kA_r_med, kA_r_q3), (kA_g_q1, kA_g_med, kA_g_q3), kA_w_lo, kA_w_hi,
        2.5, 2.5, 3.0, 274, (279.5, (652, 661, "Pre_C", 673, "Pre_BC"), 4, 2.6), 0.7, "1 2")
diffplot("dA2", (717, 768, 64, 267), (-0.25, 1.75), [0, 0.5, 1.0, 1.5], [0.25, 0.75, 1.25],
         ["0.0", "0.5", "1.0", "1.5"], kA_d_mean, kA_d_lo, kA_d_hi, kA_d_grp,
         {"Pre_BC": DIFF_RED, "Pre_C": DIFF_GREEN}, kA_p, 2.4, 2.8, 776.5, 272.5, 2.0)

# ------------------------------------------------------------------ panel b, MetaCyc
s3 = lambda s: 1.3 + 75 * s
volcano("vB1", (10, 165, 351, 465), (-3.6, 2.6), (-0.16, 3.42), [-2, 0, 2], [-3, -1, 1],
        ["-2", "0", "2"], [0, 1, 2, 3], [0.5, 1.5, 2.5], ["0", "1", "2", "3"], "pathways",
        [(vB1_grey_x, vB1_grey_y, vB1_grey_s, PT_GREY, 0.5),
         (vB1_red_x, vB1_red_y, vB1_red_s, PT_RED, 0.85)], s3,
        [("title", "Significance", 384.3, None), ("sig", "Post_BC", 389.5, PT_RED),
         ("sig", "Non-significant", 395, PT_GREY),
         ("title", "Group mean", 404, None), ("title", "difference", 407.5, None),
         ("size", "0.02", 411.7, 0.02), ("size", "0.04", 416, 0.04),
         ("size", "0.06", 421, 0.06), ("size", "0.08", 426.7, 0.08)],
        (170, 173, 176.5), 3.2, (8, 348.5), 3.5, 473.5)

boxplot("bB1", (400, 537, 365, 442), (-5.3, 0.15), [-4, -2, 0], [-5, -3, -1],
        ["1e-04", "1e-02", "1e+00"], mB_names,
        (mB_post_q1, mB_post_med, mB_post_q3), (mB_pre_q1, mB_pre_med, mB_pre_q3),
        mB_w_lo, mB_w_hi, 4.1, 3.8, 4.9, 455, (469, (405, 417.5, "Pre_BC", 446, "Post_BC"), 8, 4.5),
        1.3, "1 2")
diffplot("dB1", (548, 658, 365, 442), (-0.102, 0.006), [-0.1, -0.075, -0.05, -0.025, 0],
         [-0.0875, -0.0625, -0.0375, -0.0125], ["-0.100", "-0.075", "-0.050", "-0.025", "0.000"],
         mB_d_mean, mB_d_lo, mB_d_hi, mB_d_grp, {"Post_BC": DIFF_RED, "Pre_BC": DIFF_GREEN},
         mB_p, 3.6, 4.5, 674.5, 450, 2.8)

# ------------------------------------------------------------------ panel b, KEGG
s4 = lambda s: 1.2 + 0.6 * s
volcano("vB2", (8, 165, 493, 607), (-5.09, 3.3), (-0.12, 3.95), [-5, -2.5, 0, 2.5],
        [-3.75, -1.25, 1.25], ["-5.0", "-2.5", "0.0", "2.5"], [0, 1, 2, 3], [0.5, 1.5, 2.5, 3.5],
        ["0", "1", "2", "3"], "KOPath",
        [(vB2_grey_x, vB2_grey_y, vB2_grey_s, PT_GREY, 0.5),
         (vB2_red_x, vB2_red_y, vB2_red_s, PT_RED, 0.85),
         (vB2_green_x, vB2_green_y, vB2_green_s, PT_GREEN, 0.85)], s4,
        [("title", "Group mean", 524, None), ("title", "difference", 527.5, None),
         ("size", "2", 532.7, 2), ("size", "4", 537.3, 4), ("size", "6", 543, 6), ("size", "8", 549.3, 8),
         ("title", "Significance", 560, None), ("sig", "Pre_BC", 566, PT_GREEN),
         ("sig", "Post_BC", 571.7, PT_RED), ("sig", "Non-significant", 577.3, PT_GREY)],
        (170, 173, 176.5), 3.2, (8, 491.5), 2.5, 616)

boxplot("bB2", (337, 437, 487, 607), (-5.8, 1.0), [-4, -2, 0], [-5, -3, -1],
        ["1e-04", "1e-02", "1e+00"], kB_names,
        (kB_post_q1, kB_post_med, kB_post_q3), (kB_pre_q1, kB_pre_med, kB_pre_q3),
        kB_w_lo, kB_w_hi, 3.0, 3.3, 4.3, 617, (627, (349, 358, "Pre_BC", 382, "Post_BC"), 6.5, 3.8),
        1.1, "1 2")
diffplot("dB2", (442, 522, 487, 607), (-0.296, 0.0375), [-0.3, -0.2, -0.1, 0.0],
         [-0.25, -0.15, -0.05], ["-0.3", "-0.2", "-0.1", "0.0"],
         kB_d_mean, kB_d_lo, kB_d_hi, kB_d_grp, {"Post_BC": DIFF_RED, "Pre_BC": DIFF_GREEN},
         kB_p, 3.2, 4.1, 536, 612, 2.6)

FIG.extra_x_ranges = XR
FIG.extra_y_ranges = YR

open("out.html", "w").write(file_html(FIG, INLINE))
